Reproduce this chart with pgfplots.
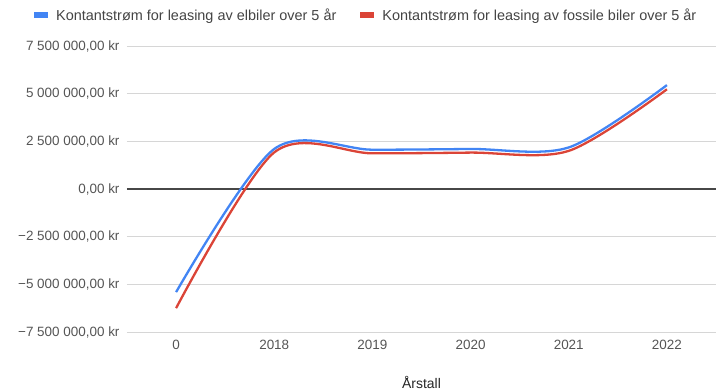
\documentclass[border=0pt]{standalone}
\usepackage{fontspec}
\setmainfont{Liberation Sans}
\usepackage{pgfplots}
\pgfplotsset{compat=1.18}
\definecolor{gblue}{HTML}{4285F4}
\definecolor{gred}{HTML}{DB4437}
\definecolor{tickgray}{HTML}{555555}
\definecolor{legendgray}{HTML}{444444}
\definecolor{gridgray}{HTML}{D6D6D6}
\begin{document}
\begin{tikzpicture}
\path[use as bounding box] (-127bp,-59bp) rectangle (589bp,332bp);
\begin{axis}[
  at={(0,0)}, anchor=south west,
  scale only axis, width=589bp, height=286bp,
  xmin=-0.5, xmax=5.5, ymin=-7.5, ymax=7.5,
  xtick={0,...,5}, xticklabels={0,2018,2019,2020,2021,2022},
  ytick={-7.5,-5,-2.5,0,2.5,5,7.5},
  yticklabels={{−7 500 000,00 kr},{−5 000 000,00 kr},{−2 500 000,00 kr},{0,00 kr},{2 500 000,00 kr},{5 000 000,00 kr},{7 500 000,00 kr}},
  extra y ticks={0}, extra y tick labels={},
  extra y tick style={grid style={color=black!72, line width=1.3bp}},
  ymajorgrids, grid style={gridgray, line width=1bp},
  axis line style={draw=none}, major tick length=0pt,
  tick label style={font=\fontsize{13.5}{16}\selectfont, text=tickgray},
  yticklabel style={xshift=-4bp},
  xticklabel style={yshift=-5bp},
  xlabel={Årstall},
  xlabel style={at={(axis description cs:0.5,-0.175)}, anchor=center, font=\fontsize{14}{16}\selectfont, text=black!85},
  legend style={at={(axis description cs:-0.163,1.108)}, anchor=west, draw=none, fill=none, legend columns=2, font=\fontsize{14.5}{17}\selectfont, text=legendgray, /tikz/every odd column/.append style={column sep=3bp}, /tikz/every even column/.append style={column sep=19bp}, inner sep=0pt},
  legend cell align=left,
  legend image code/.code={\draw[#1, line width=6bp, line cap=butt] (0bp,0) -- (14bp,0);},
]
\addplot[gblue, line width=2.3bp, smooth] coordinates {(0,-5.41) (1,2.1) (2,2.06) (3,2.1) (4,2.18) (5,5.45)};
\addlegendentry{Kontantstrøm for leasing av elbiler over 5 år}
\addplot[gred, line width=2.3bp, smooth] coordinates {(0,-6.25) (1,1.92) (2,1.87) (3,1.91) (4,2.0) (5,5.23)};
\addlegendentry{Kontantstrøm for leasing av fossile biler over 5 år}
\end{axis}
\end{tikzpicture}
\end{document}
